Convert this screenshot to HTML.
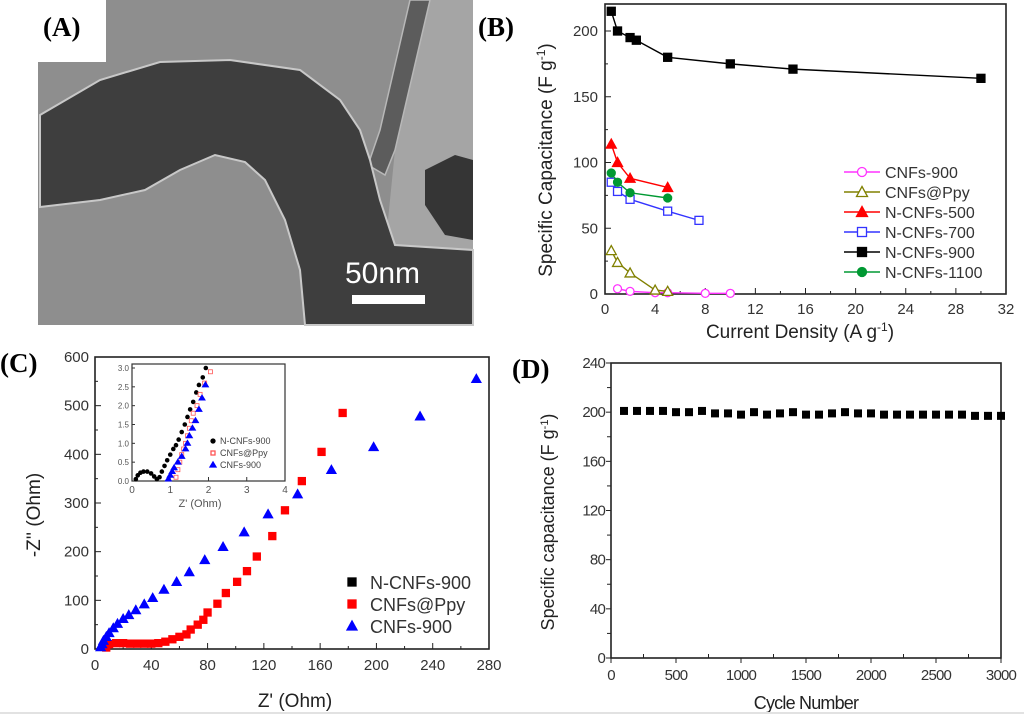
<!DOCTYPE html>
<html><head><meta charset="utf-8"><style>
body{margin:0;background:#fff;}
svg{display:block;font-family:"Liberation Sans",Arial,sans-serif;}
.lbl{font-family:"Liberation Serif",serif;font-weight:bold;font-size:27px;}
</style></head><body>
<svg id="fig" width="1024" height="718" viewBox="0 0 1024 718">
<!-- Panel A: TEM image -->
<g>
  <rect x="38" y="0" width="435" height="325" fill="#8e8e8e"/>
  <path d="M420,0 L473,0 L473,250 L385,250 L395,150 Z" fill="#a5a5a5"/>
  <path d="M410,0 L430,0 L395,150 L385,175 L368,165 L380,130 Z" fill="#5c5c5c" stroke="#b8b8b8" stroke-width="1.5"/>
  <path d="M40,115 L100,80 L160,62 L230,60 L300,70 L340,100 L360,130 L370,160 L380,200 L395,245 L473,250 L473,325 L305,325 L300,270 L285,220 L265,180 L245,162 L215,155 L180,170 L145,190 L100,200 L40,207 Z" fill="#3e3e3e" stroke="#c8c8c8" stroke-width="2"/>
  <path d="M425,170 L455,155 L473,160 L473,240 L445,235 L425,205 Z" fill="#353535"/>
  <rect x="38" y="0" width="68" height="62" fill="#fff"/>
  <text x="345" y="283" font-size="30" fill="#fff">50nm</text>
  <rect x="352" y="295" width="73" height="9" fill="#fff"/>
</g>
<text class="lbl" x="43" y="36">(A)</text>
<text class="lbl" x="478" y="36">(B)</text>
<text class="lbl" x="0" y="372">(C)</text>
<text class="lbl" x="512" y="378">(D)</text>
<g id="gB"></g>
<g id="gC"></g>
<g id="gD"></g>
<line x1="0" y1="713" x2="1024" y2="713" stroke="#e2e2e2" stroke-width="2"/>
</svg>
<script>
// ---- Panel B data ----
const bSeriesNames = ["CNFs-900","CNFs@Ppy","N-CNFs-500","N-CNFs-700","N-CNFs-900","N-CNFs-1100"];
const bX900c = [1,2,4,5,8,10];
const bY900c = [4,2,1,1,0.5,0.5];
const bXPpy = [0.5,1,2,4,5];
const bYPpy = [33,24,16,3,2];
const bX500 = [0.5,1,2,5];
const bY500 = [114,100,88,81];
const bX700 = [0.5,1,2,5,7.5];
const bY700 = [85,78,72,63,56];
const bX900 = [0.5,1,2,2.5,5,10,15,30];
const bY900 = [215,200,195,193,180,175,171,164];
const bX1100 = [0.5,1,2,5];
const bY1100 = [92,85,77,73];
const bXTicks = [0,4,8,12,16,20,24,28,32];
const bYTicks = [0,50,100,150,200];
// ---- Panel C data ----
const cRedX = [8,10,15,20,25,30,35,40,45,50,55,60,65,68,73,77,80,87,93,101,108,115,126,135,147,161,176];
const cRedY = [3,10,12,12,11,11,11,11,12,15,20,25,30,40,50,60,75,93,115,138,160,190,232,285,345,405,485];
const cBlueX = [4,5,6,8,10,13,16,20,24,29,35,41,49,58,67,78,91,106,123,144,168,198,231,271];
const cBlueY = [4,10,17,25,33,43,52,62,70,80,92,105,122,138,158,183,210,240,277,318,368,415,478,555];
const cXTicks = [0,40,80,120,160,200,240,280];
const cYTicks = [0,100,200,300,400,500,600];
const iBlackX = [0.1,0.15,0.22,0.3,0.4,0.5,0.58,0.65,0.72,0.78,0.85,0.92,1.0,1.08,1.15,1.22,1.3,1.38,1.45,1.52,1.6,1.68,1.75,1.85,1.93];
const iBlackY = [0.05,0.15,0.22,0.25,0.25,0.2,0.12,0.05,0.1,0.25,0.4,0.55,0.7,0.85,0.95,1.1,1.3,1.5,1.7,1.9,2.1,2.35,2.55,2.75,3.0];
const iRedX = [1.15,1.2,1.25,1.3,1.35,1.4,1.45,1.5,1.55,1.6,1.7,1.78,1.9,2.05];
const iRedY = [0.1,0.3,0.5,0.7,0.85,1.0,1.2,1.4,1.6,1.8,2.0,2.3,2.6,2.9];
const iBlueX = [0.95,1.0,1.05,1.1,1.2,1.3,1.4,1.45,1.5,1.58,1.66,1.75,1.83,1.92];
const iBlueY = [0.05,0.15,0.25,0.35,0.5,0.65,0.85,1.0,1.2,1.4,1.6,1.9,2.2,2.55];
const iXTicks = [0,1,2,3,4];
const iYTicks = [0,0.5,1.0,1.5,2.0,2.5,3.0];
// ---- Panel D data ----
const dCycles = [100,200,300,400,500,600,700,800,900,1000,1100,1200,1300,1400,1500,1600,1700,1800,1900,2000,2100,2200,2300,2400,2500,2600,2700,2800,2900,3000];
const dCap = [201,201,201,201,200,200,201,199,199,198,200,198,199,200,198,198,199,200,199,199,198,198,198,198,198,198,198,197,197,197];
const dXTicks = [0,500,1000,1500,2000,2500,3000];
const dYTicks = [0,40,80,120,160,200,240];

const NS="http://www.w3.org/2000/svg";
function mk(parent,tag,attrs,text){const e=document.createElementNS(NS,tag);for(const k in attrs)e.setAttribute(k,attrs[k]);if(text!==undefined)e.textContent=text;parent.appendChild(e);return e;}
function lin(d0,d1,p0,p1){return v=>p0+(v-d0)*(p1-p0)/(d1-d0);}
function marker(g,shape,x,y,s,color,filled){
  const fill=filled?color:"#fff";let e;
  if(shape==="sq") e=mk(g,"rect",{x:x-s/2,y:y-s/2,width:s,height:s,fill:fill,stroke:color,"stroke-width":1.3});
  else if(shape==="ci") e=mk(g,"circle",{cx:x,cy:y,r:s/2,fill:fill,stroke:color,"stroke-width":1.3});
  else e=mk(g,"path",{d:`M${x},${y-s/2-1} L${x+s/2+1},${y+s/2} L${x-s/2-1},${y+s/2} Z`,fill:fill,stroke:color,"stroke-width":1.3});
  return e;
}
function frame(g,x0,y0,x1,y1){mk(g,"rect",{x:x0,y:y0,width:x1-x0,height:y1-y0,fill:"none",stroke:"#222","stroke-width":1.6});}

// ===== Panel B =====
(function(){
  const g=document.getElementById("gB");
  const X=lin(0,32,605,1006),Y=lin(0,200,294,31);
  frame(g,605,4,1006,294);
  bXTicks.forEach(t=>{const x=X(t);mk(g,"line",{x1:x,y1:294,x2:x,y2:288,stroke:"#222"});
    const tl=mk(g,"text",{x:x,y:314,"font-size":15,"text-anchor":"middle",fill:"#333"},t);
    
    
    if(t<32){const xm=X(t+2);mk(g,"line",{x1:xm,y1:294,x2:xm,y2:291,stroke:"#222"});}});
  bYTicks.forEach(t=>{const y=Y(t);mk(g,"line",{x1:605,y1:y,x2:611,y2:y,stroke:"#222"});
    const tl=mk(g,"text",{x:598,y:y+5,"font-size":15,"text-anchor":"end",fill:"#333"},t);
    
    
    if(t<200){const ym=Y(t+25);mk(g,"line",{x1:605,y1:ym,x2:608,y2:ym,stroke:"#222"});}});
  const yt=mk(g,"text",{x:0,y:0,"font-size":19,"text-anchor":"middle",fill:"#222",transform:"translate(552,160) rotate(-90)"},"Specific Capacitance (F g");
  mk(yt,"tspan",{dy:-7,"font-size":12},"-1");mk(yt,"tspan",{dy:7},")");
  
  
  const xt=mk(g,"text",{x:800,y:338,"font-size":19,"text-anchor":"middle",fill:"#222"},"Current Density (A g");
  mk(xt,"tspan",{dy:-7,"font-size":12},"-1");mk(xt,"tspan",{dy:7},")");
  
  
  const series=[[bX900c,bY900c,"#ff33ff","ci",false],[bXPpy,bYPpy,"#808000","tr",false],[bX500,bY500,"#ff0000","tr",true],[bX700,bY700,"#3333ff","sq",false],[bX900,bY900,"#000000","sq",true],[bX1100,bY1100,"#009933","ci",true]];
  series.forEach((s,i)=>{
    const sg=mk(g,"g",{});
    
    
    mk(sg,"polyline",{points:s[0].map((x,j)=>X(x)+","+Y(s[1][j])).join(" "),fill:"none",stroke:s[2],"stroke-width":1.4});
    s[0].forEach((x,j)=>{const m=marker(sg,s[3],X(x),Y(s[1][j]),8,s[2],s[4]);
      
      });
    const ly=172+i*20;
    const le=mk(g,"g",{});
    
    
    mk(le,"line",{x1:844,y1:ly,x2:880,y2:ly,stroke:s[2],"stroke-width":1.4});
    marker(le,s[3],862,ly,9,s[2],s[4]);
    mk(le,"text",{x:885,y:ly+6,"font-size":16,fill:"#333"},bSeriesNames[i]);
  });
})();

// ===== Panel C =====
(function(){
  const g=document.getElementById("gC");
  const X=lin(0,280,95,489),Y=lin(0,600,649,357);
  frame(g,95,357,489,649);
  cXTicks.forEach(t=>{const x=X(t);mk(g,"line",{x1:x,y1:649,x2:x,y2:643,stroke:"#222"});
    const tl=mk(g,"text",{x:x,y:670,"font-size":15,"text-anchor":"middle",fill:"#333"},t);
    
    
    if(t<280){const xm=X(t+20);mk(g,"line",{x1:xm,y1:649,x2:xm,y2:646,stroke:"#222"});}});
  cYTicks.forEach(t=>{const y=Y(t);mk(g,"line",{x1:95,y1:y,x2:101,y2:y,stroke:"#222"});
    const tl=mk(g,"text",{x:89,y:y+5,"font-size":15,"text-anchor":"end",fill:"#333"},t);
    
    
    if(t<600){const ym=Y(t+50);mk(g,"line",{x1:95,y1:ym,x2:98,y2:ym,stroke:"#222"});}});
  const yt=mk(g,"text",{x:0,y:0,"font-size":19,"text-anchor":"middle",fill:"#222",transform:"translate(40,515) rotate(-90)"},"-Z'' (Ohm)");
  
  
  const xt=mk(g,"text",{x:295,y:707,"font-size":19,"text-anchor":"middle",fill:"#222"},"Z' (Ohm)");
  
  
  const rg=mk(g,"g",{});
  
  
  cRedX.forEach((x,j)=>{const m=marker(rg,"sq",X(x),Y(cRedY[j]),7,"#ff0000",true);
    
    });
  const bg=mk(g,"g",{});
  
  
  cBlueX.forEach((x,j)=>{const m=marker(bg,"tr",X(x),Y(cBlueY[j]),7,"#0000ff",true);
    
    });
  [["N-CNFs-900","#000","sq"],["CNFs@Ppy","#ff0000","sq"],["CNFs-900","#0000ff","tr"]].forEach((l,i)=>{
    const ly=582+i*22;
    const le=mk(g,"g",{});
    
    
    marker(le,l[2],352,ly,8,l[1],true);
    mk(le,"text",{x:370,y:ly+7,"font-size":18,fill:"#333"},l[0]);
  });
  // inset
  const ig=mk(g,"g",{});
  
  
  const IX=lin(0,4,132,285),IY=lin(0,3,481,368);
  mk(ig,"rect",{x:132,y:364,width:153,height:117,fill:"#fff",stroke:"#333","stroke-width":1.2});
  iXTicks.forEach(t=>{const x=IX(t);mk(ig,"line",{x1:x,y1:481,x2:x,y2:477,stroke:"#333"});
    const tl=mk(ig,"text",{x:x,y:493,"font-size":10,"text-anchor":"middle",fill:"#555"},t);
    
    });
  iYTicks.forEach(t=>{const y=IY(t);mk(ig,"line",{x1:132,y1:y,x2:135,y2:y,stroke:"#333"});
    const tl=mk(ig,"text",{x:129,y:y+3,"font-size":8,"text-anchor":"end",fill:"#555"},t.toFixed(1));
    
    });
  mk(ig,"text",{x:200,y:507,"font-size":11,"text-anchor":"middle",fill:"#555"},"Z' (Ohm)");
  iBlackX.forEach((x,j)=>{const m=mk(ig,"circle",{cx:IX(x),cy:IY(iBlackY[j]),r:2.3,fill:"#000"});
    
    });
  iRedX.forEach((x,j)=>{const m=mk(ig,"rect",{x:IX(x)-2,y:IY(iRedY[j])-2,width:4,height:4,fill:"#fff",stroke:"#ff5555","stroke-width":0.8});
    
    });
  iBlueX.forEach((x,j)=>{const m=marker(ig,"tr",IX(x),IY(iBlueY[j]),3.5,"#0000ff",true);
    
    });
  [["N-CNFs-900","#000","ci"],["CNFs@Ppy","#ff5555","sq"],["CNFs-900","#0000ff","tr"]].forEach((l,i)=>{
    const ly=441+i*12;
    marker(ig,l[2],213,ly,4,l[1],l[2]!=="sq");
    mk(ig,"text",{x:220,y:ly+3,"font-size":9,fill:"#444"},l[0]);
  });
})();

// ===== Panel D =====
(function(){
  const g=document.getElementById("gD");
  const X=lin(0,3000,611,1001),Y=lin(0,240,658,363);
  frame(g,611,363,1001,658);
  dXTicks.forEach(t=>{const x=X(t);mk(g,"line",{x1:x,y1:658,x2:x,y2:663,stroke:"#222"});
    const tl=mk(g,"text",{x:x,y:680,"font-size":15,"text-anchor":"middle",fill:"#333","letter-spacing":"-0.8"},t);
    
    
    if(t<3000){const xm=X(t+250);mk(g,"line",{x1:xm,y1:658,x2:xm,y2:654,stroke:"#222"});}});
  dYTicks.forEach(t=>{const y=Y(t);mk(g,"line",{x1:611,y1:y,x2:606,y2:y,stroke:"#222"});
    const tl=mk(g,"text",{x:605,y:y+5,"font-size":15,"text-anchor":"end",fill:"#333","letter-spacing":"-0.8"},t);
    
    
    if(t<240){const ym=Y(t+20);mk(g,"line",{x1:611,y1:ym,x2:607,y2:ym,stroke:"#222"});}});
  const yt=mk(g,"text",{x:0,y:0,"font-size":18,"text-anchor":"middle",fill:"#222",transform:"translate(554,522) rotate(-90)"},"Specific capacitance (F g");
  mk(yt,"tspan",{dy:-6,"font-size":11},"-1");mk(yt,"tspan",{dy:6},")");
  
  
  const xt=mk(g,"text",{x:806,y:709,"font-size":18,"text-anchor":"middle",fill:"#222","letter-spacing":"-0.8"},"Cycle Number");
  
  
  const sg=mk(g,"g",{});
  
  
  dCycles.forEach((c,j)=>{const m=mk(sg,"rect",{x:X(c)-4,y:Y(dCap[j])-4,width:8,height:8,fill:"#000"});
    
    });
})();
</script>
</body></html>
